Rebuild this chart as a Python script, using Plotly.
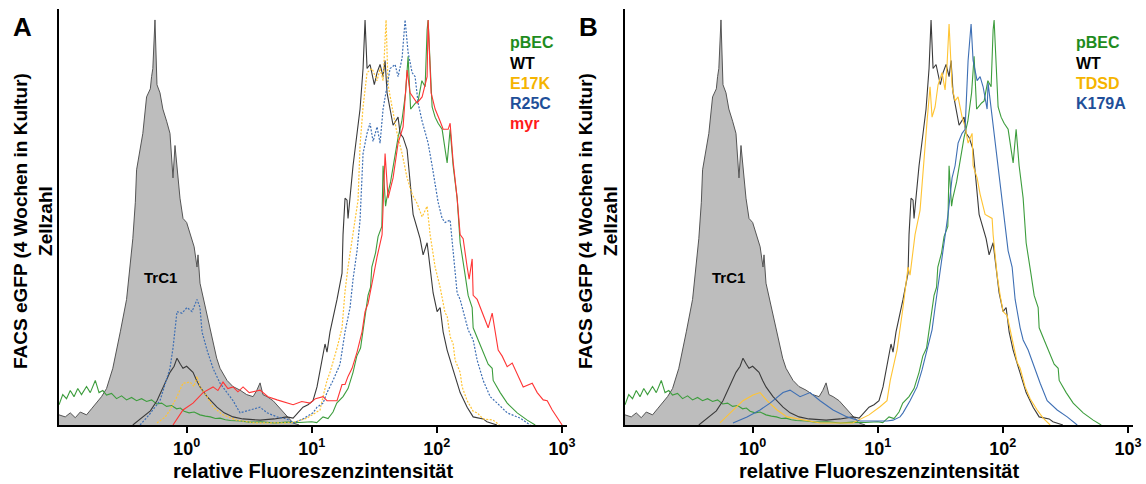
import plotly.graph_objects as go

# ---------------- data (x in log10 fluorescence units, y = relative cell count) -------------
TRC1_LOG = [-1.02,-0.97,-0.93,-0.89,-0.85,-0.80,-0.76,-0.72,-0.68,-0.64,-0.59,-0.53,-0.48,-0.43,-0.41,-0.40,-0.37,-0.35,-0.32,-0.29,-0.28,-0.27,-0.253,-0.237,-0.213,-0.19,-0.16,-0.133,-0.109,-0.093,-0.053,-0.029,0.0,0.027,0.06,0.083,0.091,0.107,0.135,0.163,0.19,0.211,0.24,0.267,0.30,0.323,0.37,0.427,0.48,0.531,0.56,0.587,0.61,0.643,0.691,0.75,0.803,0.851,0.90]
TRC1_Y = [2.5,2.0,3.0,1.8,3.2,2.5,4.0,5.4,7.0,9.0,14,23,31,46,55,63,69,72,81,83,86,88,100,84,82,78,75,72,61,69,56,51,50,47,44,39,42,35,31,27,23,20,16.5,14,12,11,9.5,8.6,7.5,7,8.5,10.4,7.5,7,6,4,2,0.5,0]

PBEC_LOG = [-1.02,-0.99,-0.96,-0.93,-0.90,-0.87,-0.84,-0.80,-0.77,-0.73,-0.70,-0.67,-0.64,-0.60,-0.56,-0.52,-0.48,-0.44,-0.40,-0.36,-0.32,-0.28,-0.24,-0.20,-0.16,-0.12,-0.08,-0.05,-0.02,0.02,0.06,0.107,0.15,0.19,0.23,0.267,0.31,0.35,0.43,0.50,0.60,0.70,0.80,0.90,1.00,1.04,1.09,1.13,1.17,1.20,1.25,1.29,1.33,1.36,1.39,1.41,1.44,1.45,1.47,1.48,1.51,1.53,1.56,1.57,1.59,1.60,1.63,1.67,1.69,1.72,1.75,1.77,1.79,1.83,1.85,1.88,1.906,1.922,1.93,1.962,1.986,2.01,2.042,2.066,2.082,2.106,2.13,2.162,2.186,2.226,2.25,2.282,2.29,2.33,2.37,2.41,2.442,2.45,2.506,2.562,2.642,2.722,2.786]
PBEC_Y = [5,7.5,6.5,8.5,7,9,7.5,9.5,8,11,8,8.5,7.4,7.8,6.5,7.2,6.2,6.8,6.0,6.5,5.8,6.2,5.2,5.4,4.6,4.8,4.0,4.2,3.4,3.0,3.2,2.5,2.2,2.0,1.6,1.7,1.3,1.1,1.0,0.7,0.8,0.5,0.7,0.6,0.8,0.6,2.0,1.6,3.2,5.4,7.0,9.0,13,17,19,23.5,31,32,34,39,42.5,46.5,49,64,54,56,60,68,71,75,82,91,78,79.5,80,85,83.5,97.5,100,78.5,76,74.5,73,68,64.7,73,64,56,45,37,32,29,24,21,18,15,14,11,8,5.4,3,1.2,0]

WT_LOG = [-0.43,-0.37,-0.29,-0.237,-0.19,-0.133,-0.10,-0.077,-0.05,-0.029,0.0,0.051,0.08,0.107,0.163,0.21,0.243,0.30,0.371,0.45,0.587,0.70,0.80,0.851,0.93,0.97,1.01,1.042,1.09,1.106,1.122,1.146,1.202,1.242,1.25,1.266,1.282,1.29,1.33,1.386,1.41,1.426,1.442,1.466,1.50,1.522,1.546,1.57,1.586,1.602,1.65,1.69,1.706,1.73,1.762,1.786,1.81,1.866,1.89,1.922,1.946,1.97,2.002,2.026,2.05,2.082,2.13,2.186,2.242,2.29,2.37,2.40,2.48]
WT_Y = [0,1.5,3.5,6,9,13,14.5,16.5,15,14,14.5,13,11,9.4,7,5.5,4.4,3,2,1.5,1.2,1.5,2.0,1.7,4.4,5,6,9.4,17,20,18,23,31,37.5,47,56,55.5,51,64,78,88,100,88,89,84,87,89,86,90,82,74,76,72,71,68,59,52,46,42,45,39,32.6,28,29,23,18.5,13.6,8,4.4,2,1.5,0.8,0]

E17K_LOG = [-0.237,-0.17,-0.133,-0.077,-0.029,0.027,0.06,0.083,0.107,0.163,0.211,0.291,0.40,0.55,0.75,0.851,0.962,1.066,1.09,1.122,1.146,1.202,1.242,1.266,1.29,1.322,1.346,1.37,1.386,1.41,1.442,1.482,1.522,1.546,1.57,1.594,1.61,1.642,1.682,1.722,1.762,1.802,1.842,1.882,1.922,1.946,1.986,2.026,2.066,2.082,2.106,2.13,2.146,2.186,2.202,2.242,2.29,2.322,2.37,2.45,2.50]
E17K_Y = [0.5,2.0,3.7,7,10.3,10.6,9.5,12,9.4,7,4.4,2.5,1.2,0.5,0.5,0.6,1.7,3.7,7,11,13,19,24,33,39,45,50.6,55.5,69,78.5,87,88,85,88,85,100,84,78.5,72,67,61,57,54.7,51.4,54,47,39,34,27.6,27,21.8,20,16,13,9.4,6,3.4,3.0,1.5,1.2,0]

R25C_LOG = [-0.372,-0.30,-0.213,-0.133,-0.109,-0.077,-0.037,0.003,0.043,0.07,0.083,0.107,0.123,0.163,0.211,0.267,0.323,0.371,0.427,0.50,0.587,0.643,0.723,0.80,0.851,0.93,1.01,1.042,1.09,1.122,1.17,1.226,1.266,1.306,1.33,1.362,1.386,1.41,1.442,1.466,1.49,1.522,1.546,1.57,1.602,1.626,1.666,1.69,1.722,1.746,1.77,1.802,1.826,1.85,1.882,1.906,1.93,1.962,1.986,2.01,2.042,2.066,2.106,2.13,2.162,2.186,2.226,2.25,2.29,2.322,2.37,2.426,2.482,2.562,2.666,2.746]
R25C_Y = [0,2.5,6,14,19,28,27.6,29,28,30,31,29,23,18.5,14,10.3,8,6,3,3.6,4.4,3,2,1.5,0.5,1.5,3,4.4,5.4,8,11,15,23,29,36,43,50.6,67,72,74.5,70,73.6,69.6,78,84,88,89,86,90.6,100,92,87,86,79.5,75,72,69.6,64,60,55,51,50,50.6,43,32.6,31,26,23.5,21,16,11,7,5.4,3,1.7,0]

MYR_LOG = [-0.109,-0.029,0.051,0.131,0.211,0.25,0.291,0.33,0.371,0.41,0.451,0.50,0.587,0.65,0.723,0.80,0.851,0.92,0.986,1.03,1.09,1.122,1.202,1.242,1.266,1.29,1.322,1.362,1.402,1.426,1.45,1.482,1.522,1.562,1.586,1.61,1.65,1.69,1.73,1.762,1.786,1.842,1.882,1.922,1.93,1.954,1.986,2.026,2.05,2.09,2.106,2.13,2.162,2.186,2.21,2.242,2.258,2.282,2.29,2.322,2.37,2.41,2.442,2.466,2.49,2.522,2.562,2.602,2.642,2.69,2.762,2.802,2.85,2.882,2.922,2.962,3.001]
MYR_Y = [0,3.7,5.4,8,9.4,8.5,10.6,9.0,9.4,8.2,9.4,8.0,8.6,7.0,6.2,5.5,5,5.8,5.4,6.5,7,6,6,10,10,12,14,18,23,28,30,35,41.5,47,67,56,61,69.6,73.6,87.6,82,79.5,81,86,100,82,78,75,73,73,74.5,65,56,47,46,39,36,41,32,31,27,24,27.6,23,18.5,17,14.4,15.3,12.8,9.4,10.3,8,6.2,6,3.7,1.7,0]

TDSD_LOG = [-0.261,-0.157,-0.077,0.003,0.059,0.115,0.195,0.275,0.403,0.54,0.80,0.93,1.018,1.074,1.10,1.154,1.202,1.242,1.258,1.274,1.298,1.338,1.362,1.394,1.418,1.434,1.458,1.482,1.514,1.538,1.554,1.570,1.594,1.618,1.642,1.674,1.698,1.722,1.754,1.762,1.794,1.818,1.858,1.914,1.922,1.954,1.978,2.002,2.034,2.058,2.082,2.114,2.138,2.162,2.178,2.218,2.274,2.322,2.378]
TDSD_Y = [0.5,3.7,6,7.4,8,6,3.7,2,1.2,0.5,0.5,2.5,4.5,6,11,18.5,29,39,37,41.5,47,53,63,75,83.5,76,78.5,84,87,82.7,89,99,83.5,80,81,76,73.6,69.6,72,64,61,57,52,51,47,37,32,28,27,23.5,19.5,15.5,14,11,9.4,6.5,3.7,1.7,0]

K179A_LOG = [-0.157,-0.045,0.059,0.139,0.243,0.299,0.379,0.459,0.539,0.643,0.755,0.859,1.074,1.122,1.178,1.202,1.258,1.314,1.354,1.394,1.434,1.458,1.498,1.538,1.562,1.594,1.618,1.642,1.674,1.698,1.714,1.722,1.746,1.762,1.794,1.818,1.842,1.874,1.882,1.914,1.938,1.962,2.002,2.042,2.074,2.098,2.138,2.162,2.202,2.242,2.298,2.354,2.434,2.514,2.594]
K179A_Y = [0.5,2,3.7,5.4,8,8.6,7,8,6,3.7,2,1,1,1.2,2,3,6,9.4,13.6,18.5,23.5,29,37.5,46.5,52,61,64,69.6,72,73,82.7,90,99,90,85,86,83.5,78,84.4,76,69.6,63,53,43,39,31,24,21,18.5,15,10.3,6,3.7,2,0]

TICK_VALUES = [1, 10, 100, 1000]
TICK_LABELS = ["<b>10<sup>0</sup></b>", "<b>10<sup>1</sup></b>", "<b>10<sup>2</sup></b>", "<b>10<sup>3</sup></b>"]
LEGEND_A = [("pBEC", "#1e8c1e"), ("WT", "#000000"), ("E17K", "#f5b400"), ("R25C", "#1f4f99"), ("myr", "#ff1a1a")]
LEGEND_B = [("pBEC", "#1e8c1e"), ("WT", "#000000"), ("TDSD", "#f5b400"), ("K179A", "#1f4f99")]

C_GREEN = "#3d9d3d"
C_BLACK = "#3a3a3a"
C_YELLOW = "#ffc433"
C_BLUE = "#3e6fb4"
C_RED = "#ff3535"

W, H = 1146, 484
FONT = "Liberation Sans, Arial, sans-serif"


def fl(logs):
    return [10 ** v for v in logs]


def check(a, b, name):
    if len(a) != len(b):
        raise ValueError(f"{name}: {len(a)} vs {len(b)}")


fig = go.Figure()


def add_line(logs, ys, color, xa, ya, dash="solid", width=1.1):
    check(logs, ys, color)
    fig.add_trace(go.Scatter(x=fl(logs), y=ys, mode="lines", xaxis=xa, yaxis=ya,
                             line=dict(color=color, width=width, dash=dash),
                             hoverinfo="skip", showlegend=False))


for xa, ya in [("x", "y"), ("x2", "y2")]:
    check(TRC1_LOG, TRC1_Y, "trc1")
    fig.add_trace(go.Scatter(x=fl(TRC1_LOG), y=TRC1_Y, mode="lines", fill="tozeroy",
                             fillcolor="#bdbdbd", line=dict(color="#555555", width=1),
                             xaxis=xa, yaxis=ya, hoverinfo="skip", showlegend=False))

# panel A
add_line(PBEC_LOG, PBEC_Y, C_GREEN, "x", "y")
add_line(WT_LOG, WT_Y, C_BLACK, "x", "y")
add_line(E17K_LOG, E17K_Y, C_YELLOW, "x", "y", dash="2px,1.5px", width=1.2)
add_line(R25C_LOG, R25C_Y, C_BLUE, "x", "y", dash="2px,1.5px", width=1.2)
add_line(MYR_LOG, MYR_Y, C_RED, "x", "y")
# panel B
add_line(PBEC_LOG, PBEC_Y, C_GREEN, "x2", "y2")
add_line(WT_LOG, WT_Y, C_BLACK, "x2", "y2")
add_line(TDSD_LOG, TDSD_Y, C_YELLOW, "x2", "y2")
add_line(K179A_LOG, K179A_Y, C_BLUE, "x2", "y2")

xcommon = dict(type="log", range=[-1.02, 3.04], tickvals=TICK_VALUES, ticktext=TICK_LABELS,
               ticks="outside", ticklen=6, tickwidth=2, tickcolor="black",
               showline=True, linewidth=2, linecolor="black", showgrid=False, zeroline=False,
               automargin=False, tickfont=dict(family=FONT, size=18, color="black"))
ycommon = dict(range=[0, 102.7], showline=True, linewidth=2, linecolor="black", ticks="",
               showticklabels=False, showgrid=False, zeroline=False, automargin=False,
               domain=[(H - 425) / H, (H - 9) / H])

fig.update_layout(
    width=W, height=H, margin=dict(l=0, r=0, t=0, b=0, pad=0),
    plot_bgcolor="white", paper_bgcolor="white", showlegend=False,
    xaxis=dict(domain=[59 / W, 567 / W], anchor="y", **xcommon),
    xaxis2=dict(domain=[625 / W, 1133 / W], anchor="y2", **xcommon),
    yaxis=dict(anchor="x", **ycommon),
    yaxis2=dict(anchor="x2", **ycommon),
)

ann = []


def px(xp, yp):
    return xp / W, 1 - yp / H


for letter, xp in [("A", 22), ("B", 588)]:
    x, y = px(xp, 27)
    ann.append(dict(text=f"<b>{letter}</b>", x=x, y=y, xref="paper", yref="paper",
                    xanchor="center", yanchor="middle", showarrow=False,
                    font=dict(family=FONT, size=26, color="black")))

for xp in [33, 598]:
    x, y = px(xp, 221)
    ann.append(dict(text="<b>FACS eGFP (4 Wochen in Kultur)<br>Zellzahl</b>", x=x, y=y,
                    xref="paper", yref="paper", xanchor="center", yanchor="middle",
                    textangle=-90, showarrow=False, align="center",
                    font=dict(family=FONT, size=19, color="black")))

for xp in [313, 879]:
    x, y = px(xp, 471)
    ann.append(dict(text="<b>relative Fluoreszenzintensität</b>", x=x, y=y,
                    xref="paper", yref="paper", xanchor="center", yanchor="middle",
                    showarrow=False, font=dict(family=FONT, size=20, color="black")))

for entries, xp in [(LEGEND_A, 508), (LEGEND_B, 1074)]:
    for i, (name, col) in enumerate(entries):
        x, y = px(xp, 43 + 20 * i)
        ann.append(dict(text=f"<b>{name}</b>", x=x, y=y, xref="paper", yref="paper",
                        xanchor="left", yanchor="middle", showarrow=False,
                        font=dict(family=FONT, size=16, color=col)))

for xr, yr, xv in [("x", "y", -0.205), ("x2", "y2", -0.19)]:
    ann.append(dict(text="<b>TrC1</b>", x=xv, y=36.5, xref=xr, yref=yr,
                    xanchor="center", yanchor="middle", showarrow=False,
                    font=dict(family=FONT, size=15, color="black")))

fig.update_layout(annotations=ann)
fig.write_html("out.html", config={"displayModeBar": False},
               post_script="document.body.style.margin='0';document.body.style.overflow='hidden';")
